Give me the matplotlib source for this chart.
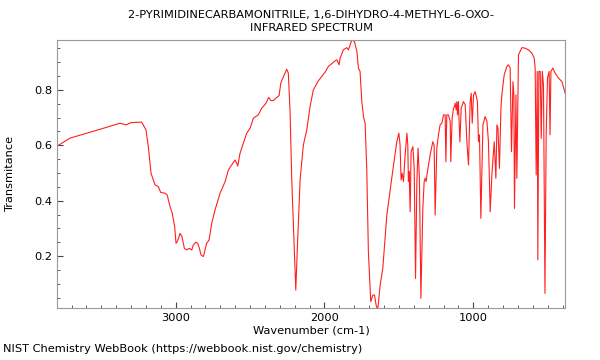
import matplotlib
matplotlib.use('Agg')
import matplotlib.pyplot as plt
from matplotlib.ticker import MultipleLocator

wavenumber = [3798, 3711, 3509, 3375, 3334, 3300, 3229, 3200, 3184, 3166,
              3139, 3117, 3101, 3072, 3057, 3038, 3023, 3007, 2998, 2989,
              2971, 2958, 2942, 2926, 2911, 2892, 2882, 2865, 2852, 2841,
              2830, 2814, 2803, 2792, 2776, 2758, 2736, 2702, 2668, 2646,
              2617, 2601, 2590, 2583, 2568, 2545, 2523, 2500, 2478, 2445,
              2422, 2393, 2375, 2361, 2344, 2305, 2294, 2276, 2254, 2243,
              2231, 2220, 2204, 2193, 2182, 2164, 2142, 2119, 2097, 2075,
              2045, 2007, 1996, 1974, 1929, 1917, 1902, 1895, 1873, 1850,
              1839, 1816, 1799, 1782, 1772, 1761, 1749, 1738, 1727, 1716,
              1705, 1689, 1675, 1664, 1653, 1642, 1626, 1608, 1581, 1548,
              1514, 1500, 1492, 1485, 1478, 1469, 1458, 1446, 1440, 1436,
              1431, 1424, 1418, 1406, 1397, 1388, 1379, 1371, 1362, 1352,
              1339, 1330, 1323, 1317, 1308, 1290, 1272, 1263, 1256, 1245,
              1234, 1223, 1211, 1200, 1189, 1184, 1178, 1167, 1155, 1151,
              1142, 1133, 1126, 1122, 1115, 1110, 1106, 1100, 1090, 1081,
              1066, 1054, 1043, 1032, 1021, 1014, 1007, 998, 987, 972,
              965, 958, 949, 935, 920, 908, 898, 886, 875, 859,
              848, 841, 834, 824, 814, 808, 792, 774, 763, 752,
              743, 733, 727, 723, 713, 707, 696, 673, 651, 629,
              606, 590, 584, 577, 570, 566, 559, 550, 543, 536,
              528, 518, 510, 501, 490, 484, 478, 465, 450, 427,
              404, 382]
transmittance = [0.597, 0.626, 0.658, 0.680, 0.674, 0.682, 0.684, 0.656, 0.595, 0.499,
                 0.457, 0.451, 0.430, 0.427, 0.420, 0.378, 0.354, 0.306, 0.246, 0.252,
                 0.282, 0.270, 0.228, 0.222, 0.228, 0.222, 0.240, 0.250, 0.246, 0.228,
                 0.204, 0.198, 0.222, 0.246, 0.258, 0.318, 0.366, 0.427, 0.469, 0.511,
                 0.535, 0.547, 0.535, 0.525, 0.571, 0.608, 0.644, 0.662, 0.698, 0.710,
                 0.734, 0.752, 0.773, 0.762, 0.762, 0.780, 0.824, 0.848, 0.875, 0.861,
                 0.716, 0.475, 0.234, 0.077, 0.234, 0.475, 0.601, 0.656, 0.740, 0.800,
                 0.830, 0.857, 0.864, 0.885, 0.905, 0.909, 0.891, 0.915, 0.945, 0.953,
                 0.945, 0.981, 0.975, 0.939, 0.879, 0.867, 0.758, 0.704, 0.680, 0.517,
                 0.216, 0.035, 0.059, 0.059, 0.023, 0.005, 0.095, 0.156, 0.348, 0.481,
                 0.613, 0.644, 0.601, 0.475, 0.499, 0.469, 0.565, 0.644, 0.601, 0.469,
                 0.505, 0.360, 0.577, 0.595, 0.517, 0.119, 0.469, 0.590, 0.481, 0.047,
                 0.372, 0.469, 0.481, 0.469, 0.505, 0.565, 0.613, 0.601, 0.348, 0.590,
                 0.638, 0.674, 0.680, 0.710, 0.710, 0.541, 0.710, 0.710, 0.686, 0.541,
                 0.698, 0.734, 0.740, 0.752, 0.728, 0.758, 0.710, 0.758, 0.613, 0.734,
                 0.758, 0.746, 0.613, 0.529, 0.758, 0.788, 0.680, 0.782, 0.794, 0.758,
                 0.613, 0.638, 0.336, 0.674, 0.704, 0.686, 0.613, 0.360, 0.493, 0.613,
                 0.481, 0.674, 0.662, 0.517, 0.734, 0.782, 0.855, 0.885, 0.891, 0.879,
                 0.577, 0.830, 0.782, 0.372, 0.782, 0.481, 0.927, 0.953, 0.951, 0.945,
                 0.933, 0.915, 0.879, 0.493, 0.867, 0.186, 0.867, 0.867, 0.625, 0.867,
                 0.818, 0.065, 0.638, 0.843, 0.867, 0.638, 0.867, 0.879, 0.861, 0.843,
                 0.830, 0.788]

titulo = "2-PYRIMIDINECARBAMONITRILE, 1,6-DIHYDRO-4-METHYL-6-OXO-\nINFRARED SPECTRUM"

fig = plt.figure(figsize=(6, 3.6), dpi=100)
ax = fig.add_axes([0.095, 0.145, 0.847, 0.745])

# grafica el espectro
ax.plot(wavenumber, transmittance, color='#ff2020', linewidth=0.8)

ax.set_xlim(3798, 382)
ax.set_ylim(0.013, 0.982)
ax.xaxis.set_major_locator(MultipleLocator(1000))
ax.xaxis.set_minor_locator(MultipleLocator(100))
ax.yaxis.set_major_locator(MultipleLocator(0.2))
ax.yaxis.set_minor_locator(MultipleLocator(0.05))
ax.tick_params(which='both', direction='in', labelsize=8.2, color='#444444')
ax.tick_params(which='major', length=4)
ax.tick_params(which='minor', length=2)
for s in ax.spines.values():
    s.set_color('#999999')

ax.set_title(titulo, fontsize=8.2, linespacing=1.4)
ax.set_xlabel('Wavenumber (cm-1)', fontsize=8.2, labelpad=2)
ax.set_ylabel('Transmitance', fontsize=8.2)
ax.yaxis.set_label_coords(-0.082, 0.5)
fig.text(0.005, 0.022, 'NIST Chemistry WebBook (https://webbook.nist.gov/chemistry)', fontsize=8.2)

fig.savefig('out.png')
